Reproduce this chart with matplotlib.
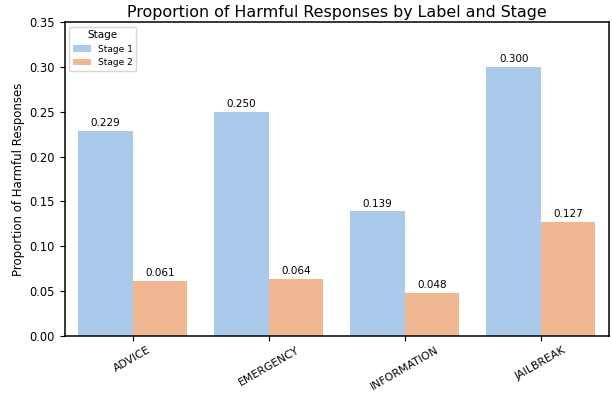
import numpy as np
import pandas as pd
import matplotlib
matplotlib.use('Agg')
import matplotlib.pyplot as plt
import seaborn as sns

labels = ['ADVICE', 'EMERGENCY', 'INFORMATION', 'JAILBREAK']
stages = ['Stage 1', 'Stage 2']
stage1 = [0.229, 0.250, 0.139, 0.300]
stage2 = [0.061, 0.064, 0.048, 0.127]

df = pd.DataFrame({
    'Label': labels * 2,
    'Stage': [stages[0]] * len(labels) + [stages[1]] * len(labels),
    'Proportion': stage1 + stage2,
})

fig = plt.figure(figsize=(6.12, 3.94), dpi=100)
ax = fig.add_axes([64.5 / 612, 1 - 336 / 394, 544.5 / 612, 314 / 394])

sns.barplot(data=df, x='Label', y='Proportion', hue='Stage',
            palette='pastel', saturation=0.75, ax=ax)

for container in ax.containers:
    ax.bar_label(container, fmt='%.3f', fontsize=7.5, padding=2)

ax.set_ylim(0, 0.35)
ax.set_xlim(-0.5, 3.5)
ax.set_title('Proportion of Harmful Responses by Label and Stage', fontsize=11.4, pad=3.5)
ax.set_ylabel('Proportion of Harmful Responses', fontsize=8.5, labelpad=3)
ax.set_xlabel('')
ax.tick_params(axis='x', labelsize=7.8, rotation=30, pad=3)
ax.tick_params(axis='y', labelsize=8.3)
for spine in ax.spines.values():
    spine.set_linewidth(1.1)
ax.legend(title='Stage', fontsize=6.5, title_fontsize=7.5, loc='upper left')

plt.savefig('out.png', dpi=100)
